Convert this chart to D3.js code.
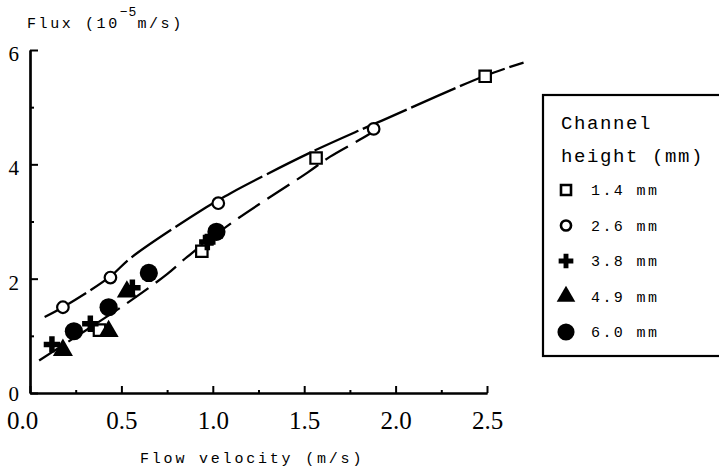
<!DOCTYPE html>
<html>
<head>
<meta charset="utf-8">
<script src="https://cdn.jsdelivr.net/npm/d3@7"></script>
<style>
  body { margin: 0; background: #fff; }
  svg { display: block; }
</style>
</head>
<body>
<div id="chart"></div>
<script>
// Datos (velocidad m/s, flujo 10^-5 m/s)
const series = ['1.4 mm', '2.6 mm', '3.8 mm', '4.9 mm', '6.0 mm'];
const h14 = [[0.38, 1.10], [0.94, 2.48], [1.565, 4.11], [2.49, 5.54]];
const h26 = [[0.18, 1.50], [0.44, 2.02], [1.03, 3.32], [1.88, 4.62]];
const h38 = [[0.12, 0.85], [0.33, 1.21], [0.56, 1.84], [0.97, 2.64], [0.99, 2.72]];
const h49 = [[0.18, 0.75], [0.43, 1.08], [0.53, 1.77]];
const h60 = [[0.24, 1.08], [0.43, 1.50], [0.65, 2.10], [1.02, 2.82]];

// Curvas ajustadas
const upperFit = [[0.08, 1.33], [0.18, 1.50], [0.44, 2.04], [0.55, 2.36], [0.96, 3.24], [1.1, 3.50],
                  [1.53, 4.20], [1.82, 4.62], [1.95, 4.80], [2.49, 5.55], [2.70, 5.78]];
const lowerFit = [[0.05, 0.57], [0.53, 1.57], [0.75, 2.08], [0.86, 2.38], [1.1, 2.97], [1.52, 3.86],
                  [1.64, 4.13], [1.82, 4.46], [1.92, 4.66]];

const xTicks = [0, 0.5, 1.0, 1.5, 2.0, 2.5];
const xMinor = [0.25, 0.75, 1.25, 1.75, 2.25];
const yTicks = [0, 2, 4, 6];
const yMinor = [1, 3, 5];

const SERIF = "'Liberation Serif', 'Times New Roman', serif";
const MONO = "'Liberation Mono', 'Courier New', monospace";

let width = 719, height = 472;

let svg = d3.select('#chart')
  .append('svg')
    .attr('width', width)
    .attr('height', height);

let x = d3.scaleLinear().domain([0, 2.5]).range([30, 487]);
let y = d3.scaleLinear().domain([0, 6]).range([393, 50]);

// Ejes
let xAxis = svg.append('g')
  .attr('transform', 'translate(0,' + y(0) + ')')
  .call(d3.axisBottom(x).tickValues(xTicks).tickSize(-7).tickSizeOuter(0).tickPadding(18)
    .tickFormat(d3.format('.1f')));
xAxis.selectAll('text')
  .attr('font-family', SERIF).attr('font-size', 25).attr('fill', '#000')
  .attr('dx', (d) => d === 0 ? -8 : 0);

svg.append('g')
  .attr('transform', 'translate(0,' + y(0) + ')')
  .call(d3.axisBottom(x).tickValues(xMinor).tickSize(-3).tickSizeOuter(0).tickFormat(''));

let yAxis = svg.append('g')
  .attr('transform', 'translate(' + x(0) + ',0)')
  .call(d3.axisLeft(y).tickValues(yTicks).tickSize(-8).tickSizeOuter(0).tickPadding(11)
    .tickFormat(d3.format('d')));
yAxis.selectAll('text')
  .attr('font-family', SERIF).attr('font-size', 21).attr('fill', '#000')
  .attr('dy', (d) => d === 0 ? '0.36em' : '0.5em');

svg.append('g')
  .attr('transform', 'translate(' + x(0) + ',0)')
  .call(d3.axisLeft(y).tickValues(yMinor).tickSize(-4).tickSizeOuter(0).tickFormat(''));

svg.selectAll('.domain').attr('stroke', '#000').attr('stroke-width', 2.2);
svg.selectAll('.tick line').attr('stroke', '#000').attr('stroke-width', 2);

// Títulos
let yTitle = svg.append('text')
  .attr('x', 27).attr('y', 28)
  .attr('font-family', MONO).attr('font-size', 15).attr('letter-spacing', 2.6);
yTitle.append('tspan').text('Flux (10');
yTitle.append('tspan').attr('dy', -12).attr('font-size', 13).attr('letter-spacing', 1).text('\u22125');
yTitle.append('tspan').attr('dy', 12).text('m/s)');

svg.append('text')
  .attr('x', 140).attr('y', 463)
  .attr('font-family', MONO).attr('font-size', 15).attr('letter-spacing', 2.8)
  .text('Flow velocity (m/s)');

// Curvas
let line = d3.line()
  .x((d) => x(d[0]))
  .y((d) => y(d[1]))
  .curve(d3.curveCatmullRom);

svg.append('path').datum(upperFit)
  .attr('d', line).attr('fill', 'none').attr('stroke', '#000')
  .attr('stroke-width', 2.3).attr('stroke-dasharray', '48,5');

svg.append('path').datum(lowerFit)
  .attr('d', line).attr('fill', 'none').attr('stroke', '#000')
  .attr('stroke-width', 2.3).attr('stroke-dasharray', '26,9');

// Marcadores
const markers = [
  { data: h14, type: d3.symbolSquare, size: 130, fill: '#fff', stroke: 2.2 },
  { data: h26, type: d3.symbolCircle, size: 105, fill: '#fff', stroke: 2.2 },
  { data: h38, type: d3.symbolCross, size: 150, fill: '#000', stroke: 0 },
  { data: h49, type: d3.symbolTriangle, size: 175, fill: '#000', stroke: 0 },
  { data: h60, type: d3.symbolCircle, size: 260, fill: '#000', stroke: 0 }
];

markers.forEach(function(m) {
  svg.append('g')
    .selectAll('path')
    .data(m.data)
    .enter()
    .append('path')
      .attr('transform', (d) => 'translate(' + x(d[0]) + ',' + y(d[1]) + ')')
      .attr('d', d3.symbol().type(m.type).size(m.size))
      .attr('fill', m.fill)
      .attr('stroke', '#000')
      .attr('stroke-width', m.stroke);
});

// Leyenda
let legend = svg.append('g');
legend.append('rect')
  .attr('x', 543).attr('y', 95).attr('width', 190).attr('height', 261)
  .attr('fill', 'none').attr('stroke', '#000').attr('stroke-width', 2.2);

legend.append('text').attr('x', 561).attr('y', 129)
  .attr('font-family', MONO).attr('font-size', 19).attr('letter-spacing', 1.6)
  .text('Channel');
legend.append('text').attr('x', 561).attr('y', 162)
  .attr('font-family', MONO).attr('font-size', 19).attr('letter-spacing', 1.6)
  .text('height (mm)');

const legendSizes = [100, 80, 120, 150, 230];

legend.selectAll('.item')
  .data(series)
  .enter()
  .append('g')
    .attr('class', 'item')
    .attr('transform', (d, i) => 'translate(0,' + (190 + i * 35.5) + ')')
    .each(function(d, i) {
      let g = d3.select(this);
      g.append('path')
        .attr('transform', 'translate(566,0)')
        .attr('d', d3.symbol().type(markers[i].type).size(legendSizes[i]))
        .attr('fill', markers[i].fill)
        .attr('stroke', '#000')
        .attr('stroke-width', markers[i].stroke ? 2.6 : 0);
      g.append('text')
        .attr('x', 591).attr('y', 5)
        .attr('font-family', MONO).attr('font-size', 15).attr('letter-spacing', 2.4)
        .text(d);
    });
</script>
</body>
</html>
